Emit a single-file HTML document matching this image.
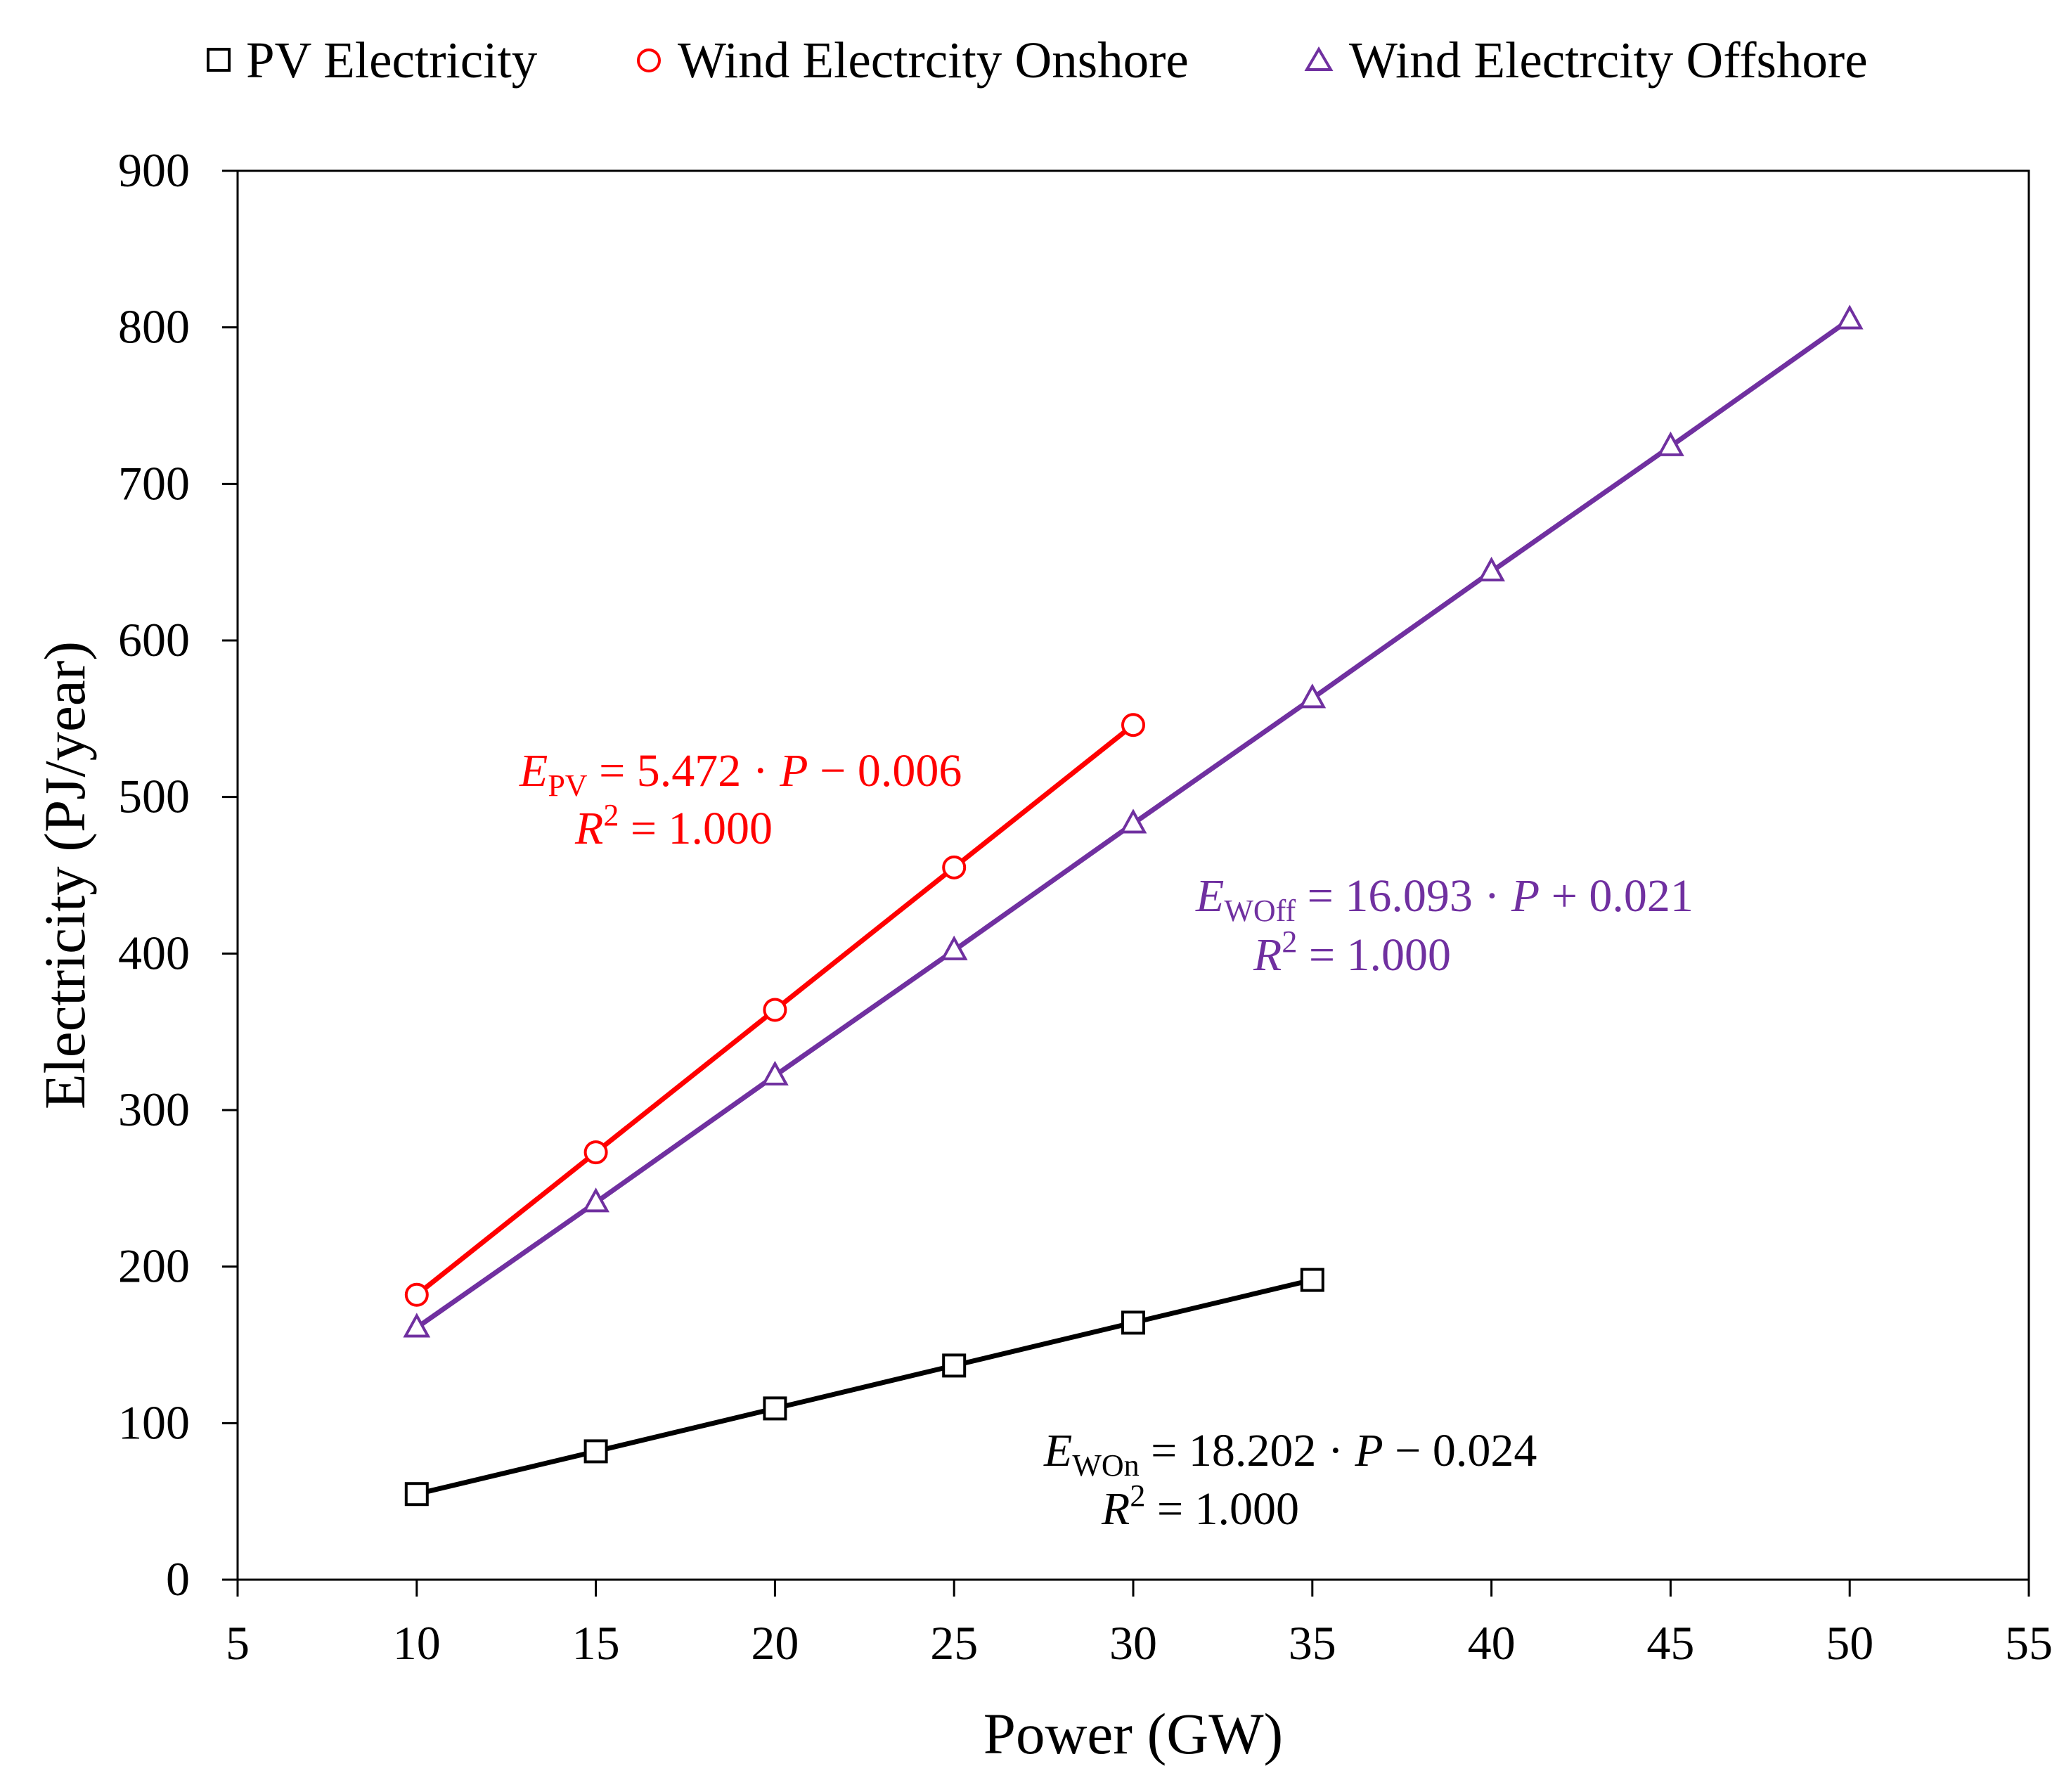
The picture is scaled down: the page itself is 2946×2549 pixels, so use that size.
<!DOCTYPE html>
<html><head><meta charset="utf-8"><style>
html,body{margin:0;padding:0;background:#fff}
svg{display:block;font-family:"Liberation Serif",serif}
</style></head><body>
<svg id="chart" width="2946" height="2549" viewBox="0 0 2946 2549" xmlns="http://www.w3.org/2000/svg">
<g id="legend" font-size="73">
 <g><rect x="296" y="70" width="30" height="30" fill="#fff" stroke="#000" stroke-width="4"/><text x="350" y="110">PV Electricity</text></g>
 <g><circle cx="923" cy="86" r="15" fill="#fff" stroke="#f00" stroke-width="4"/><text x="964" y="110">Wind Electrcity Onshore</text></g>
 <g><polygon points="1876,70 1893,99 1859,99" fill="#fff" stroke="#7030a0" stroke-width="4"/><text x="1919" y="110">Wind Electrcity Offshore</text></g>
</g>
<g id="axes"></g>
<g id="series"></g>
<g id="annot" font-size="66" font-family="Liberation Serif, serif">
 <text x="739" y="1118" fill="#f00"><tspan font-style="italic">E</tspan><tspan font-size="44" dy="14">PV</tspan><tspan dy="-14"> = 5.472 · </tspan><tspan font-style="italic">P</tspan> − 0.006</text>
 <text x="818" y="1200" fill="#f00"><tspan font-style="italic">R</tspan><tspan font-size="44" dy="-26">2</tspan><tspan dy="26"> = 1.000</tspan></text>
 <text x="1701" y="1296" fill="#7030a0"><tspan font-style="italic">E</tspan><tspan font-size="44" dy="14">WOff</tspan><tspan dy="-14"> = 16.093 · </tspan><tspan font-style="italic">P</tspan> + 0.021</text>
 <text x="1783" y="1380" fill="#7030a0"><tspan font-style="italic">R</tspan><tspan font-size="44" dy="-26">2</tspan><tspan dy="26"> = 1.000</tspan></text>
 <text x="1485" y="2085" fill="#000"><tspan font-style="italic">E</tspan><tspan font-size="44" dy="14">WOn</tspan><tspan dy="-14"> = 18.202 · </tspan><tspan font-style="italic">P</tspan> − 0.024</text>
 <text x="1567" y="2168" fill="#000"><tspan font-style="italic">R</tspan><tspan font-size="44" dy="-26">2</tspan><tspan dy="26"> = 1.000</tspan></text>
</g>
</svg>
<script>
const xTicks=[5,10,15,20,25,30,35,40,45,50,55];
const yTicks=[0,100,200,300,400,500,600,700,800,900];
const pvX=[10,15,20,25,30,35];
const pvY=[54.7,82,109.4,136.8,164.2,191.5];
const onX=[10,15,20,25,30];
const onY=[182,273,364,455,546];
const offX=[10,15,20,25,30,35,40,45,50];
const offY=[161,241,322,402,483,563,644,724,805];
const L=338,R=2886,T=243,B=2247;
const sx=v=>L+(v-5)/50*(R-L);
const sy=v=>B-v/900*(B-T);
const NS="http://www.w3.org/2000/svg";
function mk(tag,attrs,parent){const e=document.createElementNS(NS,tag);for(const k in attrs)e.setAttribute(k,attrs[k]);parent.appendChild(e);return e;}
const ax=document.getElementById('axes');
const frame=mk('rect',{x:L,y:T,width:R-L,height:B-T,fill:'none',stroke:'#000','stroke-width':3},ax);


xTicks.forEach(v=>{
 const t=mk('line',{x1:sx(v),x2:sx(v),y1:B,y2:B+24,stroke:'#000','stroke-width':3},ax);
 
 
 const l=mk('text',{x:sx(v),y:B+113,'font-size':68,'text-anchor':'middle'},ax);l.textContent=v;
 
 
});
yTicks.forEach(v=>{
 const t=mk('line',{x1:L-22,x2:L,y1:sy(v),y2:sy(v),stroke:'#000','stroke-width':3},ax);
 
 
 const l=mk('text',{x:L-68,y:sy(v)+22,'font-size':68,'text-anchor':'end'},ax);l.textContent=v;
 
 
});
const xt=mk('text',{x:1612,y:2494,'font-size':83,'text-anchor':'middle'},ax);xt.textContent='Power (GW)';


const yt=mk('text',{x:0,y:0,'font-size':83,'text-anchor':'middle',transform:'translate(120,1245) rotate(-90)'},ax);yt.textContent='Electricity (PJ/year)';


const sg=document.getElementById('series');
function series(xs,ys,color,shape,name){
 const g=mk('g',{},sg);
 
 
 const p=mk('polyline',{points:xs.map((x,i)=>sx(x)+','+sy(ys[i])).join(' '),fill:'none',stroke:color,'stroke-width':7},g);
 
 
 xs.forEach((x,i)=>{
  const cx=sx(x),cy=sy(ys[i]);let m;
  if(shape==='sq')m=mk('rect',{x:cx-15,y:cy-15,width:30,height:30,fill:'#fff',stroke:color,'stroke-width':4},g);
  else if(shape==='ci')m=mk('circle',{cx:cx,cy:cy,r:15,fill:'#fff',stroke:color,'stroke-width':4},g);
  else m=mk('polygon',{points:`${cx},${cy-17} ${cx+16},${cy+12} ${cx-16},${cy+12}`,fill:'#fff',stroke:color,'stroke-width':4},g);
  
  
 });
}
series(offX,offY,'#7030a0','tr','offshore');
series(onX,onY,'#ff0000','ci','onshore');
series(pvX,pvY,'#000','sq','pv');
</script>
</body></html>
